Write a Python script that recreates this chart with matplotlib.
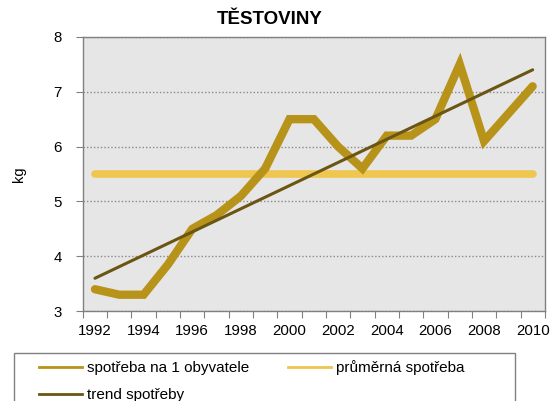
import matplotlib
matplotlib.use("Agg")
import matplotlib.pyplot as plt
from matplotlib.patches import Rectangle
from matplotlib.ticker import FixedLocator, NullFormatter

plt.rcParams['font.family'] = ['Liberation Sans', 'DejaVu Sans']

years = list(range(1992, 2011))
consumption = [3.4, 3.3, 3.3, 3.85, 4.5, 4.75, 5.1, 5.6, 6.5, 6.5, 6.0, 5.6,
               6.2, 6.2, 6.5, 7.5, 6.1, 6.6, 7.1]
average = [5.5] * len(years)
trend_years = [1992, 2010]
trend_values = [3.6, 7.4]
title = "TĚSTOVINY"
ylabel = "kg"
labels = ["spotřeba na 1 obyvatele", "průměrná spotřeba", "trend spotřeby"]

c_data = "#b8931a"
c_avg = "#eec650"
c_trend = "#6b5512"

fig = plt.figure(figsize=(5.52, 4.01), dpi=100)
ax = fig.add_axes([0.150, 0.224, 0.837, 0.684])
ax.set_facecolor("#e6e6e6")

x = [y - 1992 for y in years]
tx = [y - 1992 for y in trend_years]
ax.plot(x, consumption, color=c_data, lw=6, solid_capstyle='round',
        solid_joinstyle='miter', zorder=3)
ax.plot(x, average, color=c_avg, lw=5.5, solid_capstyle='round', zorder=2)
ax.plot(tx, trend_values, color=c_trend, lw=2.2, solid_capstyle='round', zorder=4)

ax.set_xlim(-0.5, 18.5)
ax.set_ylim(3, 8)
ax.set_yticks([3, 4, 5, 6, 7, 8])
ax.yaxis.grid(True, color="#8a8a8a", linestyle=(0, (1, 1.5)), lw=1)
ax.set_axisbelow(True)

ax.xaxis.set_major_locator(FixedLocator([i - 0.5 for i in range(20)]))
ax.xaxis.set_major_formatter(NullFormatter())
ax.xaxis.set_minor_locator(FixedLocator([i for i in range(0, 19, 2)]))
ax.set_xticklabels([str(y) for y in years[::2]], minor=True)
ax.tick_params(axis='x', which='major', length=5, color="#808080", direction='out')
ax.tick_params(axis='x', which='minor', length=0, pad=9, labelsize=10.8)
ax.tick_params(axis='y', length=5, color="#808080", pad=10, labelsize=10.8)

for s in ax.spines.values():
    s.set_color("#808080")
    s.set_linewidth(1)

fig.text(270 / 552, 1 - 19 / 401, title, fontsize=13.5, fontweight='bold',
         ha='center', va='center')
ax.set_ylabel(ylabel, fontsize=10.5, labelpad=20)

# legend box (extends below the figure edge as in the reference)
fig.patches.append(Rectangle((14 / 552, -0.05), (515 - 14) / 552, 0.05 + 1 - 353 / 401,
                             transform=fig.transFigure, facecolor='white',
                             edgecolor="#808080", lw=1, zorder=0))

h1 = plt.Line2D([], [], color=c_data, lw=2)
h2 = plt.Line2D([], [], color=c_avg, lw=2)
h3 = plt.Line2D([], [], color=c_trend, lw=2)
leg = fig.legend([h1, h3, h2], [labels[0], labels[2], labels[1]], ncol=2,
                 loc='upper left', bbox_to_anchor=(39 / 552, 1 - 360 / 401),
                 frameon=False, fontsize=11, handlelength=2.8, handletextpad=0.33,
                 columnspacing=2.55, labelspacing=0.86, borderpad=0,
                 borderaxespad=0)

fig.savefig("out.png", dpi=100)
